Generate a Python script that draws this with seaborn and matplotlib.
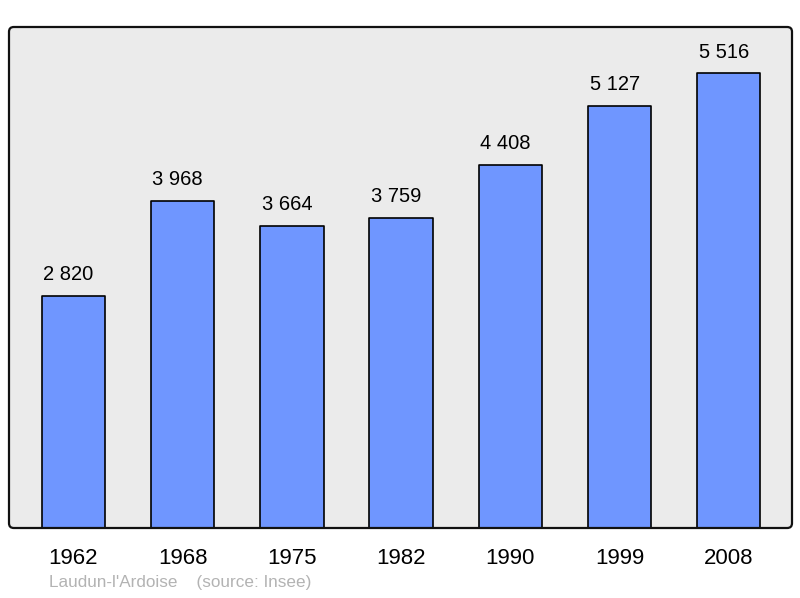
import matplotlib
matplotlib.use("Agg")
import matplotlib.pyplot as plt
import seaborn as sns
import pandas as pd
from matplotlib.patches import FancyBboxPatch

years = ["1962", "1968", "1975", "1982", "1990", "1999", "2008"]
population = [2820, 3968, 3664, 3759, 4408, 5127, 5516]
commune = "Laudun-l'Ardoise"
source = "(source: Insee)"

sns.set_theme(style="white")
plt.rcParams["font.family"] = ["Liberation Sans", "DejaVu Sans"]

df = pd.DataFrame({"year": years, "pop": population})

fig = plt.figure(figsize=(8, 5.98), dpi=100)
ax = fig.add_axes([9/800, 70/598, 783/800, 501/598])
ax.set_facecolor("#ebebeb")

sns.barplot(data=df, x="year", y="pop", color="#6f96ff", saturation=1,
            edgecolor="black", linewidth=1.2, width=0.58, ax=ax)
for p in ax.patches:
    p.set_joinstyle("round")

labels = [f"{v:,}".replace(",", " ") for v in population]
texts = ax.bar_label(ax.containers[0], labels=labels, padding=8.5, fontsize=14.5, color="black")
for t in texts:
    t.xyann = (-3.5, 8.5)

ax.set_xlim(-0.59, 6.58)
ax.set_ylim(0, 6080)
ax.set_yticks([])
ax.set_xlabel("")
ax.set_ylabel("")
ax.tick_params(axis="x", length=0, pad=14.5, labelsize=16, labelcolor="black")
for s in ax.spines.values():
    s.set_visible(False)

frame = FancyBboxPatch((9/800, 70/598), 783/800, 501/598,
                       boxstyle="round,pad=0,rounding_size=0.006",
                       mutation_aspect=800/598,
                       transform=fig.transFigure, facecolor="none",
                       edgecolor="#111111", linewidth=1.6, zorder=10)
fig.patches.append(frame)

fig.text(49/800, 1 - 583/598, commune + "    " + source, color="#b3b3b3",
         fontsize=12.3, va="center", ha="left")

fig.savefig("out.png", dpi=100)
